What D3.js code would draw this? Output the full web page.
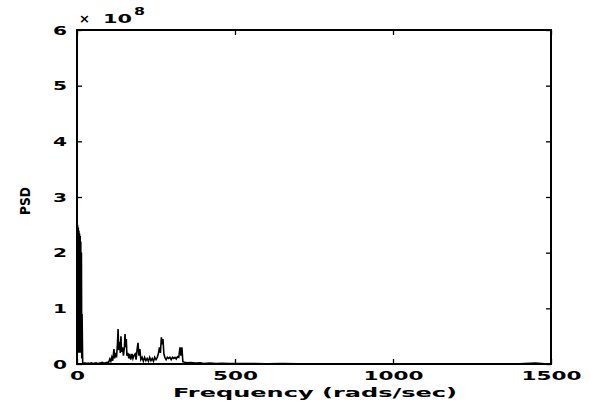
<!DOCTYPE html>
<html>
<head>
<meta charset="utf-8">
<script src="https://cdn.jsdelivr.net/npm/d3@7"></script>
<style>
  body { margin: 0; background: #fff; }
  svg text { font-family: "DejaVu Sans", sans-serif; fill: #000; }
</style>
</head>
<body>
<script>
// frequency (rads/sec) and PSD (x 1e8)
const freq = [0, 1, 2, 3, 4, 5, 6, 7, 8, 9, 10, 11, 12, 13, 14, 15, 16, 18, 20, 25, 30, 35, 40, 45, 50, 55, 60, 65, 70, 75, 80, 85, 90, 95,
  100, 104, 107, 110, 113, 117, 119, 122, 125, 128, 130, 132, 135, 137, 139, 141, 144, 147, 150, 152, 154, 156, 158, 161, 164, 167, 170, 174, 177, 180, 184, 187, 190, 193, 196, 199,
  202, 206, 210, 214, 218, 222, 226, 230, 234, 238, 242, 246, 250, 254, 258, 261, 264, 267, 270, 272, 275, 278, 282, 286, 290, 294, 298,
  302, 306, 310, 314, 318, 322, 326, 329, 332, 335, 340, 350, 360, 375, 390, 400, 420, 440, 460, 480, 500, 530, 560, 600, 650, 700, 750, 800, 850, 900, 950, 1000, 1100, 1200, 1300, 1400, 1450, 1480, 1500];
const psd = [2.55, 0.2, 2.5, 0.3, 2.45, 0.2, 2.4, 0.3, 2.35, 0.2, 2.3, 0.3, 2.2, 0.2, 2.0, 0.1, 0.9, 0.03, 0.01, 0.02, 0.01, 0.015, 0.01, 0.02, 0.01, 0.015, 0.02, 0.01, 0.015, 0.02, 0.03, 0.015, 0.02, 0.03,
  0.03, 0.09, 0.05, 0.12, 0.06, 0.27, 0.1, 0.2, 0.12, 0.35, 0.63, 0.25, 0.4, 0.2, 0.5, 0.22, 0.3, 0.15, 0.3, 0.54, 0.3, 0.45, 0.15, 0.2, 0.1, 0.18, 0.08, 0.18, 0.1, 0.15, 0.18, 0.08, 0.25, 0.38, 0.15, 0.27,
  0.08, 0.12, 0.05, 0.12, 0.06, 0.1, 0.05, 0.12, 0.06, 0.1, 0.05, 0.12, 0.08, 0.12, 0.2, 0.3, 0.2, 0.48, 0.35, 0.45, 0.18, 0.12, 0.08, 0.12, 0.1, 0.12, 0.08,
  0.12, 0.1, 0.12, 0.09, 0.13, 0.12, 0.3, 0.15, 0.3, 0.04, 0.03, 0.02, 0.025, 0.015, 0.02, 0.01, 0.015, 0.01, 0.012, 0.008, 0.01, 0.006, 0.008, 0.005, 0.006, 0.004, 0.005, 0.004, 0.003, 0.004, 0.003, 0.003, 0.002, 0.002, 0.002, 0.002, 0.015, 0.002, 0.002];
const xTicks = [0, 500, 1000, 1500];
const yTicks = [0, 1, 2, 3, 4, 5, 6];

const data = freq.map((f, i) => ({ f: f, p: psd[i] }));

const w = 591, h = 407;
const padL = 77, padR = 551, padT = 30, padB = 364;

const svg = d3.select("body").append("svg")
  .attr("width", w)
  .attr("height", h);

const x = d3.scaleLinear().domain([0, 1500]).range([padL, padR]);
const y = d3.scaleLinear().domain([0, 6]).range([padB, padT]);

// data line
const line = d3.line().x(d => x(d.f)).y(d => y(d.p));
svg.append("path")
  .datum(data)
  .attr("d", line)
  .attr("fill", "none")
  .attr("stroke", "#000")
  .attr("stroke-width", 1.6);

// axes, ticks pointing inward
const tickLen = 5;
svg.append("g")
  .attr("transform", "translate(0," + padB + ")")
  .call(d3.axisBottom(x).tickValues(xTicks).tickSize(-tickLen).tickPadding(7).tickFormat(d3.format("d")))
  .call(g => g.select(".domain").remove())
  .call(g => g.selectAll("text").attr("font-size", 13).attr("font-weight", "bold")
    .attr("textLength", d => String(d).length * 15).attr("lengthAdjust", "spacingAndGlyphs"));

svg.append("g")
  .attr("transform", "translate(0," + padT + ")")
  .call(d3.axisTop(x).tickValues(xTicks).tickSize(-tickLen).tickFormat(""))
  .call(g => g.select(".domain").remove());

svg.append("g")
  .attr("transform", "translate(" + padL + ",0)")
  .call(d3.axisLeft(y).tickValues(yTicks).tickSize(-tickLen).tickPadding(10).tickFormat(d3.format("d")))
  .call(g => g.select(".domain").remove())
  .call(g => g.selectAll("text").attr("font-size", 13).attr("font-weight", "bold")
    .attr("textLength", 14).attr("lengthAdjust", "spacingAndGlyphs"));

svg.append("g")
  .attr("transform", "translate(" + padR + ",0)")
  .call(d3.axisRight(y).tickValues(yTicks).tickSize(-tickLen).tickFormat(""))
  .call(g => g.select(".domain").remove());

svg.selectAll(".tick line").attr("stroke", "#000").attr("stroke-width", 1.3);

// box
svg.append("rect")
  .attr("x", padL).attr("y", padT)
  .attr("width", padR - padL).attr("height", padB - padT)
  .attr("fill", "none")
  .attr("stroke", "#000")
  .attr("stroke-width", 2);

// exponent label
svg.append("text")
  .attr("x", 79).attr("y", 23)
  .attr("font-size", 13).attr("font-weight", "bold")
  .text("×");
svg.append("text")
  .attr("x", 103).attr("y", 23)
  .attr("font-size", 13).attr("font-weight", "bold")
  .attr("textLength", 29).attr("lengthAdjust", "spacingAndGlyphs")
  .text("10");
svg.append("text")
  .attr("x", 134).attr("y", 15)
  .attr("font-size", 10).attr("font-weight", "bold")
  .attr("textLength", 11).attr("lengthAdjust", "spacingAndGlyphs")
  .text("8");

// axis labels
svg.append("text")
  .attr("x", 315)
  .attr("y", 397)
  .attr("text-anchor", "middle")
  .attr("font-size", 13)
  .attr("font-weight", "bold")
  .attr("textLength", 284)
  .attr("lengthAdjust", "spacingAndGlyphs")
  .text("Frequency (rads/sec)");

svg.append("text")
  .attr("transform", "translate(30,201) rotate(-90)")
  .attr("text-anchor", "middle")
  .attr("font-size", 14)
  .attr("font-weight", "bold")
  .attr("textLength", 28)
  .attr("lengthAdjust", "spacingAndGlyphs")
  .text("PSD");
</script>
</body>
</html>
